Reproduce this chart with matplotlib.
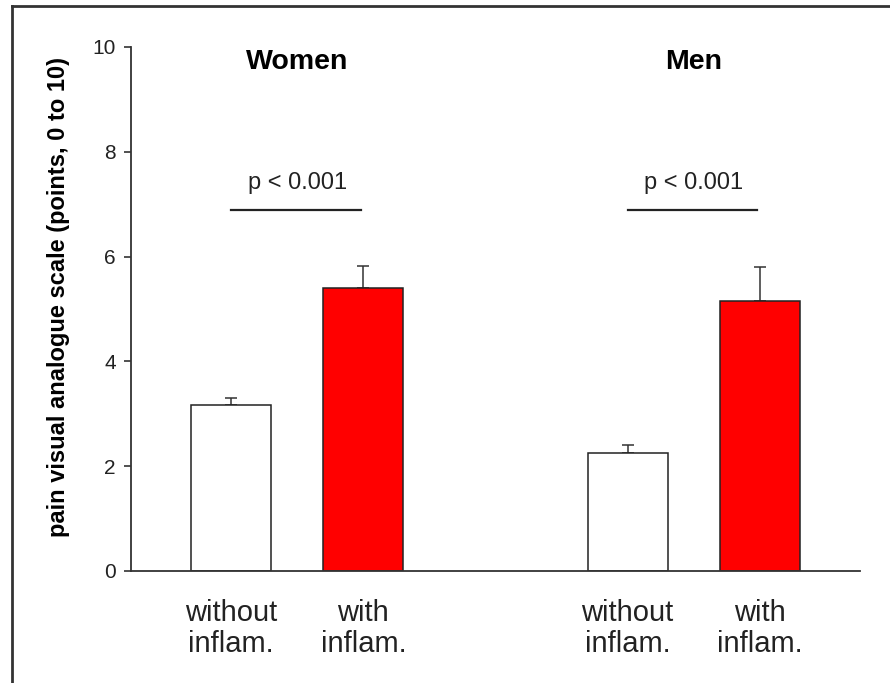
import matplotlib.pyplot as plt
from matplotlib.lines import Line2D

plt.rcParams['font.family'] = ['Liberation Sans', 'DejaVu Sans']

# pain VAS means and SEM, women then men
groups = ['Women', 'Men']
conditions = ['without\ninflam.', 'with\ninflam.']
means = [3.17, 5.40, 2.25, 5.15]
errors = [0.13, 0.42, 0.15, 0.65]
colors = ['white', '#ff0000', 'white', '#ff0000']
positions = [0, 1, 3, 4]
p_text = 'p < 0.001'
sig_y = 6.89

fig = plt.figure(figsize=(8.9, 6.83), dpi=100)
ax = fig.add_axes([131 / 890, 1 - 571 / 683, 729 / 890, 524 / 683])

ax.bar(positions, means, width=0.606, color=colors, edgecolor='#222222',
       linewidth=1.1, zorder=2)
ax.errorbar(positions, means, yerr=[[0] * 4, errors], fmt='none',
            ecolor='#333333', elinewidth=1.1, capsize=4, capthick=1.1, zorder=1)

ax.set_xlim(-0.758, 4.758)
ax.set_ylim(0, 10)
ax.set_yticks([0, 2, 4, 6, 8, 10])
ax.set_xticks(positions)
ax.set_xticklabels(conditions * 2, fontsize=21, color='#222222', linespacing=1.15)
ax.tick_params(axis='x', length=0, pad=20)
ax.tick_params(axis='y', labelsize=15, length=5, width=1.1, colors='#222222', pad=6)
for s in ['top', 'right']:
    ax.spines[s].set_visible(False)
for s in ['left', 'bottom']:
    ax.spines[s].set_linewidth(1.3)
    ax.spines[s].set_color('#333333')
ax.set_ylabel('pain visual analogue scale (points, 0 to 10)', fontsize=17,
              fontweight='bold', labelpad=16)
ax.yaxis.label.set_y(0.523)

for i, g in enumerate(groups):
    a, b = positions[2 * i], positions[2 * i + 1]
    ax.text((a + b) / 2, 9.71, g, ha='center', va='center', fontsize=20.5,
            fontweight='bold')
    ax.plot([a, b - 0.02], [sig_y, sig_y], color='#222222', lw=1.6)
    ax.text((a + b) / 2, 7.40, p_text, ha='center', va='center', fontsize=17,
            color='#222222')

# figure frame, left and top edges
fig.add_artist(Line2D([12 / 890, 12 / 890], [0, 1 - 6 / 683], color='#333333', lw=2))
fig.add_artist(Line2D([12 / 890, 1], [1 - 6 / 683, 1 - 6 / 683], color='#333333', lw=2))

fig.savefig('out.png', dpi=100)
